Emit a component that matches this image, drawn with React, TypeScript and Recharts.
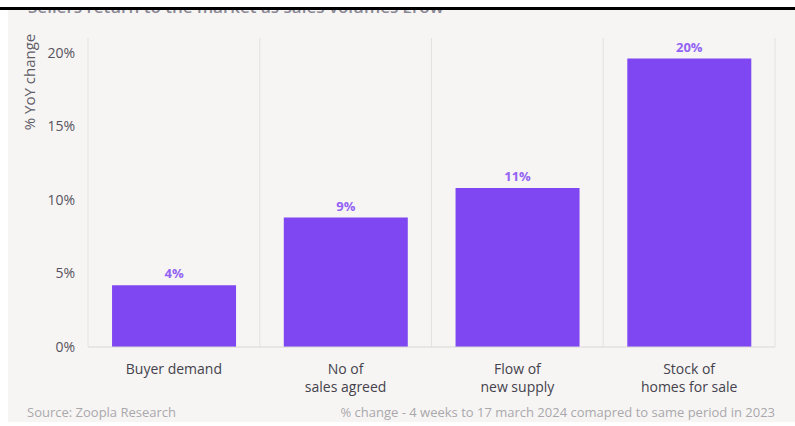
import React from "react";
import { BarChart, Bar, XAxis, YAxis, CartesianGrid, LabelList } from "recharts";

const categories = ["Buyer demand", "No of\nsales agreed", "Flow of\nnew supply", "Stock of\nhomes for sale"];
const yoyChange = [4.2, 8.8, 10.8, 19.6];
const yTicks = [0, 5, 10, 15, 20];

const chartData = categories.map((name, i) => ({ name, value: yoyChange[i] }));

const FONT = "'Open Sans', sans-serif";
const BAR_COLOR = "#7f47f2";
const LABEL_COLOR = "#9363f5";

function CategoryTick(props: any): React.JSX.Element {
  const { x, y, payload } = props;
  const lines = String(payload.value).split("\n");
  return (
    <text x={x} y={y} textAnchor="middle" fill="#45424d" fontSize={14} fontFamily={FONT}>
      {lines.map((line, i) => (
        <tspan key={i} x={x} dy={i === 0 ? 19 : 18}>
          {line}
        </tspan>
      ))}
    </text>
  );
}

export default function App(): React.JSX.Element {
  return (
    <div
      style={{
        position: "fixed",
        left: 0,
        top: 0,
        width: 795,
        height: 426,
        background: "#ffffff",
        overflow: "hidden",
        fontFamily: FONT,
      }}
    >
      <div
        style={{
          position: "absolute",
          left: 8,
          top: 10,
          width: 787,
          height: 412,
          background: "#f6f5f3",
        }}
      />
      {/* title cut off at the top of the screenshot */}
      <div
        style={{
          position: "absolute",
          left: 28,
          top: 10,
          width: 700,
          height: 3,
          overflow: "hidden",
        }}
      >
        <div
          style={{
            position: "absolute",
            top: -15,
            left: 0,
            fontSize: 17,
            fontWeight: 600,
            color: "#8a8894",
            whiteSpace: "nowrap",
          }}
        >
          Sellers return to the market as sales volumes grow
        </div>
      </div>
      <div
        style={{
          position: "absolute",
          left: 0,
          top: 7,
          width: 795,
          height: 3,
          background: "#000000",
        }}
      />
      <div style={{ position: "absolute", left: 0, top: 0 }}>
        <BarChart
          width={795}
          height={426}
          data={chartData}
          margin={{ top: 38, right: 20, left: 28, bottom: 29 }}
          barCategoryGap="14%"
        >
          <CartesianGrid
            vertical
            horizontal={false}
            stroke="#e4e2e0"
            verticalCoordinatesGenerator={({ offset }: any) =>
              [0, 1, 2, 3, 4].map((i) => offset.left + (offset.width * i) / 4)
            }
          />
          <XAxis
            dataKey="name"
            height={50}
            interval={0}
            tickLine={false}
            axisLine={{ stroke: "#d9d7d5" }}
            tick={<CategoryTick />}
          />
          <YAxis
            width={60}
            domain={[0, 21]}
            ticks={yTicks}
            tickFormatter={(v: number) => v + "%"}
            tickLine={false}
            axisLine={false}
            tickSize={0}
            tickMargin={13}
            tick={{ fill: "#56535f", fontSize: 14, fontFamily: FONT }}
          />
          <Bar dataKey="value" fill={BAR_COLOR} isAnimationActive={false}>
            <LabelList
              dataKey="value"
              position="top"
              offset={7}
              formatter={(v: any) => Math.round(Number(v)) + "%"}
              fill={LABEL_COLOR}
              fontSize={13}
              fontWeight={700}
              fontFamily={FONT}
            />
          </Bar>
        </BarChart>
      </div>
      <div
        style={{
          position: "absolute",
          left: 29,
          top: 82,
          transform: "translate(-50%, -50%) rotate(-90deg)",
          fontSize: 15,
          color: "#5f5c68",
          whiteSpace: "nowrap",
        }}
      >
        % YoY change
      </div>
      <div
        style={{
          position: "absolute",
          left: 27,
          top: 403,
          fontSize: 13,
          color: "#aaa8ad",
          whiteSpace: "nowrap",
        }}
      >
        Source: Zoopla Research
      </div>
      <div
        style={{
          position: "absolute",
          right: 20,
          top: 403,
          fontSize: 13,
          color: "#aaa8ad",
          whiteSpace: "nowrap",
        }}
      >
        % change - 4 weeks to 17 march 2024 comapred to same period in 2023
      </div>
    </div>
  );
}
